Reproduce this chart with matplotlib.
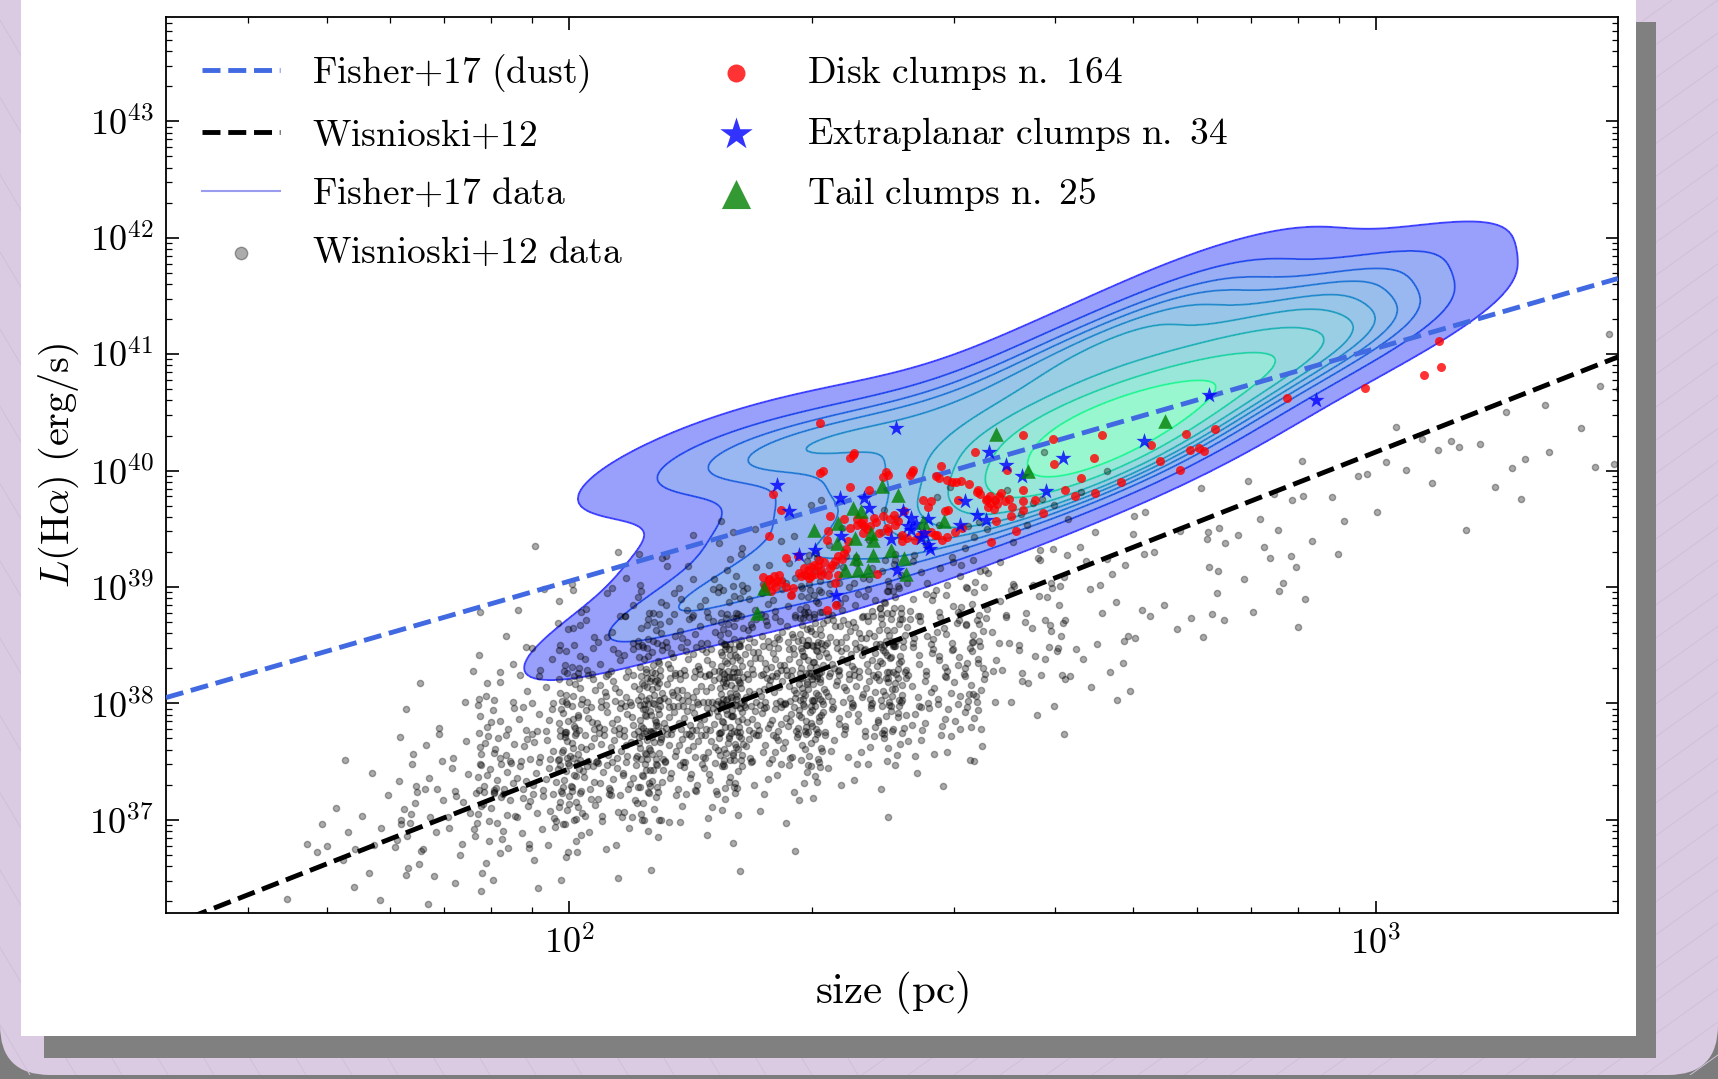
import numpy as np
import matplotlib
matplotlib.use("Agg")
import matplotlib.pyplot as plt
from matplotlib import ticker, transforms
from matplotlib.lines import Line2D
from matplotlib.patches import Rectangle, FancyBboxPatch

# ---------------------------------------------------------------- data (log10 values)
# Fisher+17 sample used for the density contours: log10 size [pc], log10 L(Halpha) [erg/s]
fisher_logsize = [2.07,
                  2.13,
                  2.20, 2.20,
                  2.30, 2.30, 2.30, 2.30,
                  2.40, 2.40, 2.40, 2.40,
                  2.50, 2.50, 2.50, 2.50,
                  2.57, 2.57, 2.57, 2.57, 2.57,
                  2.63, 2.63, 2.63, 2.63, 2.63,
                  2.68, 2.68, 2.68, 2.68, 2.68,
                  2.73, 2.73, 2.73, 2.73, 2.73,
                  2.80, 2.80, 2.80, 2.80,
                  2.88, 2.88, 2.88,
                  2.95, 2.95, 2.95,
                  3.02,
                  2.14, 2.20, 2.26, 2.32, 2.80, 3.02]
fisher_logL = [38.55,
               38.90,
               38.95, 39.45,
               39.00, 39.40, 39.80, 40.15,
               39.20, 39.60, 40.00, 40.35,
               39.45, 39.85, 40.20, 40.55,
               39.70, 39.95, 40.22, 40.50, 40.95,
               39.90, 40.10, 40.32, 40.55, 41.00,
               40.00, 40.22, 40.42, 40.62, 41.10,
               40.15, 40.38, 40.60, 40.90, 41.35,
               40.50, 40.75, 41.05, 41.45,
               40.80, 41.05, 41.40,
               41.00, 41.25, 41.60,
               41.30,
               40.15, 40.15, 40.20, 40.28, 41.72, 41.68]
fisher_bw_adjust = 0.9

# Wisnioski+12 data, counted per cell: columns of 0.1 dex in size (from 1.6),
# rows of 0.25 dex in luminosity (from 36.25)
wis_size_edges = np.arange(1.6, 3.31, 0.1)
wis_lum_edges = np.arange(36.25, 41.26, 0.25)
wis_counts = [
    [1, 1, 1, 0, 0, 0, 0, 0, 0, 0, 0, 0, 0, 0, 0, 0, 0, 0, 0, 0],
    [3, 5, 6, 5, 2, 0, 0, 0, 0, 0, 0, 0, 0, 0, 0, 0, 0, 0, 0, 0],
    [3, 6, 10, 14, 12, 8, 4, 3, 0, 0, 0, 0, 0, 0, 0, 0, 0, 0, 0, 0],
    [1, 5, 14, 26, 32, 28, 20, 14, 8, 5, 2, 0, 1, 0, 0, 0, 0, 0, 0, 0],
    [0, 3, 10, 26, 38, 45, 45, 38, 26, 15, 9, 3, 1, 0, 0, 0, 0, 0, 0, 0],
    [0, 1, 4, 13, 32, 50, 58, 58, 45, 32, 18, 9, 3, 1, 0, 0, 0, 0, 0, 0],
    [0, 0, 1, 5, 15, 38, 56, 62, 56, 44, 25, 12, 5, 2, 0, 0, 0, 0, 0, 0],
    [0, 0, 0, 1, 6, 18, 36, 48, 54, 48, 36, 18, 7, 3, 0, 0, 0, 0, 0, 0],
    [0, 0, 0, 0, 3, 12, 24, 30, 32, 28, 22, 13, 6, 3, 1, 0, 0, 0, 0, 0],
    [0, 0, 0, 0, 0, 0, 3, 8, 12, 14, 12, 10, 7, 4, 2, 1, 0, 0, 0, 0],
    [0, 0, 0, 0, 0, 0, 0, 4, 6, 6, 5, 4, 4, 4, 2, 0, 0, 0, 0, 0],
    [0, 0, 0, 0, 0, 0, 0, 0, 0, 5, 3, 2, 3, 2, 1, 0, 0, 0, 0, 0],
    [0, 0, 0, 0, 0, 0, 0, 0, 0, 2, 3, 5, 5, 3, 2, 0, 0, 0, 0, 0],
    [0, 0, 0, 0, 0, 0, 0, 0, 0, 0, 0, 0, 2, 3, 2, 2, 0, 0, 0, 0],
    [0, 0, 0, 0, 0, 0, 0, 0, 0, 0, 0, 0, 0, 1, 2, 3, 2, 0, 0, 0],
    [0, 0, 0, 0, 0, 0, 0, 0, 0, 0, 0, 0, 0, 0, 2, 3, 2, 1, 0, 0],
    [0, 0, 0, 0, 0, 0, 0, 0, 0, 0, 0, 0, 0, 0, 1, 2, 1, 1, 1, 1],
]

# clumps
disk_logsize = [2.311, 2.353, 2.348, 2.314, 2.311, 2.392, 2.389, 2.426, 2.422, 2.461, 2.455, 2.458, 2.474, 2.479,
                2.495, 2.503, 2.562, 2.253, 2.348, 2.372, 2.507, 2.509, 2.543, 2.262, 2.323, 2.340, 2.364, 2.365,
                2.378, 2.389, 2.403, 2.415, 2.438, 2.448, 2.445, 2.466, 2.482, 2.516, 2.522, 2.528, 2.519, 2.526,
                2.535, 2.540, 2.549, 2.547, 2.562, 2.577, 2.563, 2.562, 2.529, 2.554, 2.523, 2.487, 2.478, 2.468,
                2.462, 2.453, 2.438, 2.428, 2.413, 2.412, 2.404, 2.394, 2.384, 2.369, 2.362, 2.356, 2.348, 2.247,
                2.321, 2.320, 2.345, 2.341, 2.333, 2.329, 2.323, 2.316, 2.312, 2.308, 2.303, 2.296, 2.291, 2.283,
                2.269, 2.294, 2.287, 2.299, 2.305, 2.321, 2.333, 2.381, 2.240, 2.247, 2.254, 2.260, 2.252, 2.258,
                2.244, 2.250, 2.255, 2.277, 2.275, 2.329, 2.331, 2.319, 2.364, 2.408, 2.587,
                3.078, 3.081, 3.059, 2.986, 2.890, 2.800, 2.764, 2.770, 2.780, 2.787, 2.732, 2.757, 2.721, 2.660,
                2.650, 2.634, 2.684, 2.652, 2.615, 2.627, 2.600, 2.601,
                2.248, 2.262, 2.285, 2.300, 2.312, 2.325, 2.338, 2.310, 2.297, 2.268, 2.242, 2.373, 2.380, 2.398,
                2.418, 2.433, 2.448, 2.357, 2.395, 2.518, 2.530, 2.545, 2.533, 2.522, 2.505, 2.468, 2.485, 2.425,
                2.395, 2.352, 2.456, 2.470, 2.343]
disk_logL = [40.405, 40.147, 40.104, 39.995, 39.975, 39.986, 39.943, 40.001, 39.960, 40.038, 39.952, 39.938, 39.903,
             39.903, 39.886, 40.161, 40.304, 39.800, 39.863, 39.837, 39.837, 39.800, 40.009, 39.665, 39.608, 39.588,
             39.574, 39.522, 39.594, 39.608, 39.622, 39.651, 39.751, 39.737, 39.685, 39.651, 39.751, 39.743, 39.780,
             39.743, 39.685, 39.674, 39.808, 39.737, 39.685, 39.608, 39.837, 39.751, 39.737, 39.665, 39.565, 39.479,
             39.387, 39.508, 39.473, 39.427, 39.407, 39.450, 39.465, 39.407, 39.393, 39.450, 39.531, 39.508, 39.465,
             39.502, 39.551, 39.531, 39.508, 39.436, 39.479, 39.407, 39.393, 39.293, 39.264, 39.221, 39.164, 39.215,
             39.106, 39.178, 39.192, 39.149, 39.164, 39.264, 39.250, 39.101, 39.092, 39.092, 39.112, 39.101, 39.106,
             39.115, 39.086, 39.063, 39.092, 39.106, 39.035, 39.049, 38.992, 38.963, 38.997, 38.992, 38.934, 39.035,
             38.848, 38.805, 39.465, 39.565, 39.634,
             41.113, 40.889, 40.820, 40.709, 40.623, 40.356, 40.313, 40.175, 40.193, 40.167, 40.081, 40.003, 40.218,
             40.304, 40.107, 39.935, 39.900, 39.806, 39.832, 39.780, 40.270, 40.055,
             39.070, 39.040, 39.120, 39.170, 39.150, 39.190, 39.240, 39.230, 39.080, 39.000, 39.010, 39.520, 39.560,
             39.585, 39.420, 39.440, 39.470, 39.585, 39.480, 39.760, 39.710, 39.760, 39.785, 39.720, 39.820, 39.920,
             39.910, 39.985, 39.960, 40.130, 39.445, 39.665, 39.330]

extra_logsize = [2.405, 2.520, 2.541, 2.561, 2.258, 2.336, 2.365, 2.372, 2.272, 2.414, 2.424, 2.445, 2.491, 2.505,
                 2.516, 2.484, 2.337, 2.399, 2.424, 2.436, 2.445, 2.447, 2.304, 2.285, 2.406, 2.331,
                 2.793, 2.926, 2.713, 2.612, 2.591, 2.430, 2.440, 2.420]
extra_logL = [40.362, 40.161, 40.052, 39.952, 39.874, 39.766, 39.766, 39.680, 39.657, 39.657, 39.594, 39.588, 39.737,
              39.622, 39.579, 39.536, 39.436, 39.416, 39.493, 39.422, 39.364, 39.330, 39.316, 39.272, 39.149, 38.934,
              40.648, 40.605, 40.253, 40.107, 39.823, 39.540, 39.460, 39.520]

tail_logsize = [2.529, 2.568, 2.387, 2.408, 2.352, 2.361, 2.464, 2.438, 2.333, 2.303, 2.374, 2.377, 2.354, 2.332,
                2.399, 2.415, 2.377, 2.355, 2.342, 2.358, 2.370, 2.417, 2.241, 2.233, 2.738]
tail_logL = [40.310, 39.995, 39.866, 39.794, 39.680, 39.651, 39.565, 39.559, 39.551, 39.493, 39.465, 39.407, 39.422,
             39.379, 39.321, 39.250, 39.278, 39.250, 39.149, 39.149, 39.149, 39.112, 38.992, 38.777, 40.425]

# relations: log L = a + b log size
fisher_rel = (35.05, 2.0)
wisnioski_rel = (32.0, 2.72)

labels = [r"$\mathrm{Fisher{+}17\ (dust)}$", r"$\mathrm{Wisnioski{+}12}$",
          r"$\mathrm{Fisher{+}17\ data}$", r"$\mathrm{Wisnioski{+}12\ data}$",
          r"$\mathrm{Disk\ clumps\ n.\ 164}$", r"$\mathrm{Extraplanar\ clumps\ n.\ 34}$",
          r"$\mathrm{Tail\ clumps\ n.\ 25}$"]


def halton(idx, base):
    f, r = 1.0, 0.0
    while idx > 0:
        f /= base
        r += f * (idx % base)
        idx //= base
    return r


# ---------------------------------------------------------------- figure
plt.rcParams["mathtext.fontset"] = "cm"
plt.rcParams["font.family"] = ["DejaVu Serif"]

W, H = 1718, 1079
fig = plt.figure(figsize=(W / 100, H / 100), dpi=100)
fig.patch.set_facecolor("#7c7c7c")
ident = transforms.IdentityTransform()

card = FancyBboxPatch((0, 4), W, H + 120, boxstyle="round,pad=0,rounding_size=50",
                      transform=ident, facecolor="#dbcbe2", edgecolor="none", zorder=-10)
fig.add_artist(card)
left_clip = Rectangle((0, 4), 860, H, transform=ident)
right_clip = Rectangle((860, 4), 860, H, transform=ident)
for x0 in range(-1300, 2400, 46):
    l1 = Line2D([x0, x0 + 640], [H, 4], transform=ident, color="#cfbfd8", lw=0.7, zorder=-9)
    l1.set_clip_path(left_clip)
    fig.add_artist(l1)
    l2 = Line2D([x0, x0 + 1500], [4, H], transform=ident, color="#cfbfd8", lw=0.7, zorder=-9)
    l2.set_clip_path(right_clip)
    fig.add_artist(l2)
fig.add_artist(Rectangle((44, H - 1058), 1612, 1036, transform=ident,
                         facecolor="#808080", edgecolor="none", zorder=-8))
fig.add_artist(Rectangle((21, H - 1036), 1615, 1040, transform=ident,
                         facecolor="white", edgecolor="none", zorder=-7))

ax = fig.add_axes([166 / W, 1 - 913 / H, (1618 - 166) / W, (913 - 16.5) / H])
ax.set_xscale("log")
ax.set_yscale("log")
xlo, xhi = 1.5, 3.3
ylo, yhi = 36.2, 43.9
ax.set_xlim(10 ** xlo, 10 ** xhi)
ax.set_ylim(10 ** ylo, 10 ** yhi)

# KDE of the Fisher+17 data (Scott bandwidth, iso-proportion levels)
fx = np.array(fisher_logsize)
fy = np.array(fisher_logL)
n = fx.size
cov = np.cov(np.vstack([fx, fy])) * (n ** (-1 / 6) * fisher_bw_adjust) ** 2
inv = np.linalg.inv(cov)
gx = np.linspace(xlo, xhi, 320)
gy = np.linspace(ylo, yhi, 480)
GX, GY = np.meshgrid(gx, gy)
Z = np.zeros_like(GX)
for px, py in zip(fx, fy):
    dx = GX - px
    dy = GY - py
    Z += np.exp(-0.5 * (inv[0, 0] * dx * dx + 2 * inv[0, 1] * dx * dy + inv[1, 1] * dy * dy))
vals = np.sort(Z.ravel())[::-1]
cum = np.cumsum(vals) / vals.sum()
props = np.linspace(0.05, 1, 10)
lv = np.take(vals, np.searchsorted(cum, 1 - props), mode="clip")
ax.contourf(10 ** GX, 10 ** GY, Z, levels=lv, cmap="winter", alpha=0.4, zorder=1)
ax.contour(10 ** GX, 10 ** GY, Z, levels=lv[:-1], cmap="winter", alpha=0.6,
           linewidths=1.4, zorder=1.2)

# Wisnioski+12 points: spread over each counted cell with a Halton sequence
wx, wy = [], []
for i, col in enumerate(wis_counts):
    for j, c in enumerate(col):
        start = 70 * (i * len(col) + j) + 1
        for k in range(c):
            u = halton(start + k, 2)
            v = halton(start + k, 3)
            wx.append(wis_size_edges[i] + 0.1 * (1.3 * u - 0.15))
            wy.append(wis_lum_edges[j] + 0.25 * (1.3 * v - 0.15))
wx = np.array(wx)
wy = np.array(wy)
h_wdata = ax.scatter(10 ** wx, 10 ** wy, s=20, c="k", alpha=0.33, lw=1.0, zorder=2)

# relations
xs = np.linspace(xlo, xhi, 50)
ax.plot(10 ** xs, 10 ** (fisher_rel[0] + fisher_rel[1] * xs), ls="--", color="royalblue",
        lw=3.5, zorder=3)
ax.plot(10 ** xs, 10 ** (wisnioski_rel[0] + wisnioski_rel[1] * xs), ls="--", color="k",
        lw=3.5, zorder=3)

h_disk = ax.scatter(10 ** np.array(disk_logsize), 10 ** np.array(disk_logL), s=42, c="red",
                    alpha=0.8, lw=0, zorder=4)
h_extra = ax.scatter(10 ** np.array(extra_logsize), 10 ** np.array(extra_logL), s=150, marker="*",
                     c="blue", alpha=0.8, lw=0, zorder=5)
h_tail = ax.scatter(10 ** np.array(tail_logsize), 10 ** np.array(tail_logL), s=110, marker="^",
                    c="green", alpha=0.8, lw=0, zorder=5)

h_dust = Line2D([], [], ls="--", color="royalblue", lw=3.5)
h_wis = Line2D([], [], ls="--", color="k", lw=3.5)
h_fdata = Line2D([], [], color=(0.35, 0.35, 0.9), alpha=0.6, lw=1.5)
ax.legend([h_dust, h_wis, h_fdata, h_wdata, h_disk, h_extra, h_tail], labels, ncol=2,
          loc="upper left", frameon=False, fontsize=27, markerscale=2.0, handlelength=2.1,
          handletextpad=0.85, columnspacing=1.95, labelspacing=0.6, borderaxespad=0.55)

# axes styling
fmt = ticker.FuncFormatter(lambda v, p: r"$10^{%d}$" % int(round(np.log10(v))))
ax.xaxis.set_major_locator(ticker.LogLocator(base=10, numticks=20))
ax.yaxis.set_major_locator(ticker.LogLocator(base=10, numticks=20))
ax.xaxis.set_minor_locator(ticker.LogLocator(base=10, subs=np.arange(2, 10), numticks=100))
ax.yaxis.set_minor_locator(ticker.LogLocator(base=10, subs=np.arange(2, 10), numticks=100))
ax.xaxis.set_major_formatter(fmt)
ax.yaxis.set_major_formatter(fmt)
ax.xaxis.set_minor_formatter(ticker.NullFormatter())
ax.yaxis.set_minor_formatter(ticker.NullFormatter())
ax.tick_params(which="both", direction="in", top=True, right=True, labelsize=26)
ax.tick_params(which="major", length=9, width=1.2, pad=9)
ax.tick_params(which="minor", length=4, width=0.9)
for s in ax.spines.values():
    s.set_linewidth(1.3)

ax.set_xlabel(r"$\mathrm{size\ (pc)}$", fontsize=31, labelpad=6)
ax.set_ylabel(r"$L(\mathrm{H}\alpha)\ \mathrm{(erg/s)}$", fontsize=29, labelpad=6)

fig.savefig("out.png", dpi=100, facecolor=fig.get_facecolor())
